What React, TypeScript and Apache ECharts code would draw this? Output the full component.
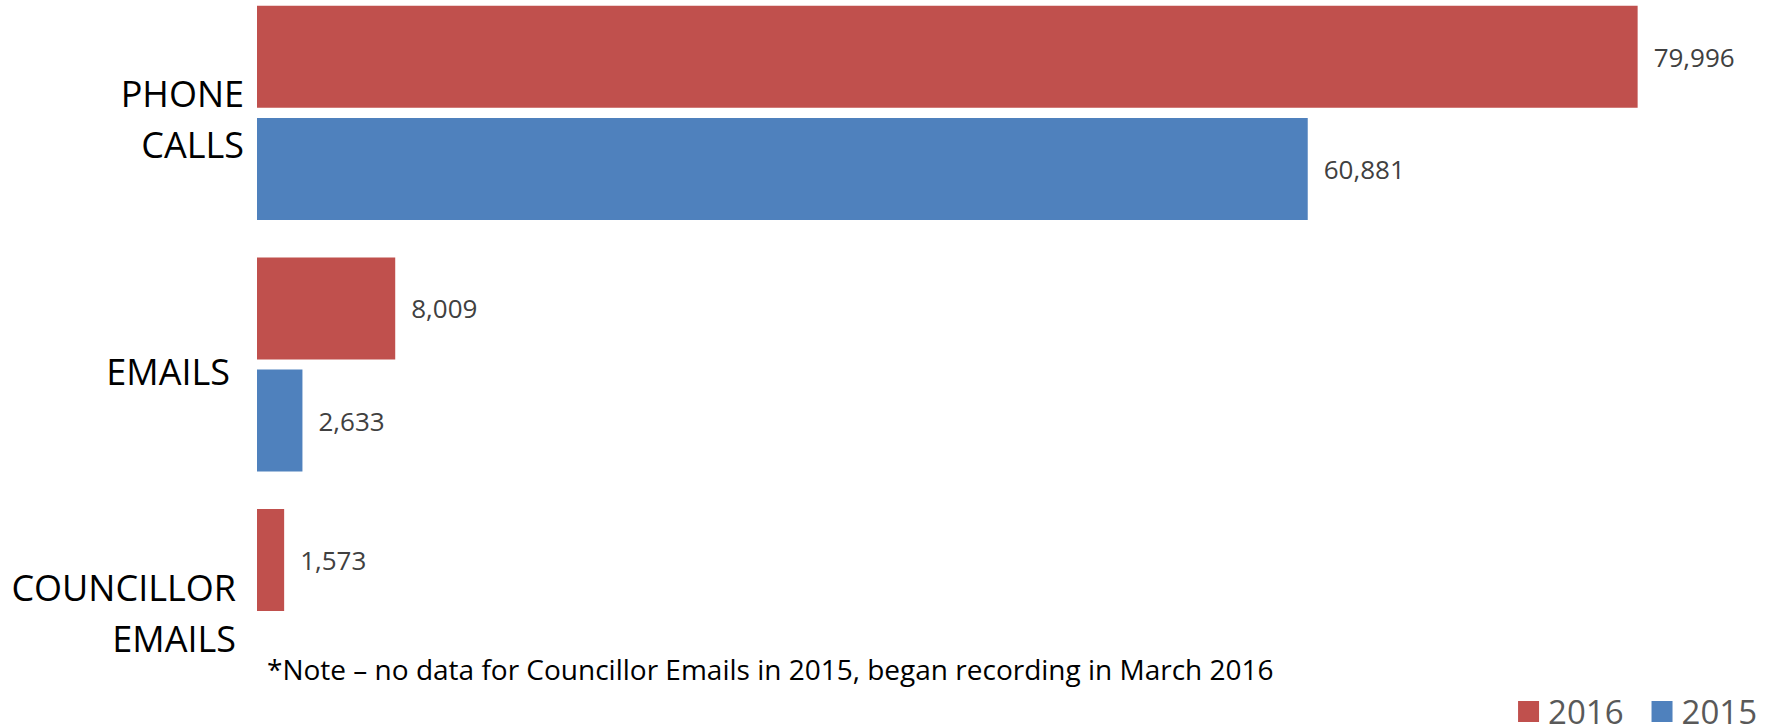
import React, { useEffect, useRef } from "react";
import * as echarts from "echarts";

const categories: string[] = ["PHONE\nCALLS", "EMAILS", "COUNCILLOR\nEMAILS"];
const values2016: (number | null)[] = [79996, 8009, 1573];
const values2015: (number | null)[] = [60881, 2633, null];
const seriesNames: string[] = ["2016", "2015"];
const noteText = "*Note \u2013 no data for Councillor Emails in 2015, began recording in March 2016";

const RED = "#C0504D";
const BLUE = "#4F81BD";
const FONT = "'Open Sans', sans-serif";
const OFFSET = 13; // chart canvas is shifted up by this many px so bands can overflow the window

export default function App() {
  const ref = useRef<HTMLDivElement>(null);
  useEffect(() => {
    if (!ref.current) return;
    const chart = echarts.init(ref.current, null, { renderer: "svg" });
    // per-category label token paddings [top, right, bottom, left]
    const labelPads = [
      [0, 0, 0, 0],
      [2, 14, 0, 0],
      [0, 8, 18, 0],
    ];
    const labelRich: any = {};
    categories.forEach((_, i) => {
      labelRich["c" + i] = {
        fontFamily: FONT,
        fontSize: 36,
        color: "#000000",
        lineHeight: 51,
        padding: labelPads[i],
      };
    });
    const dataLabel = {
      show: true,
      position: "right",
      distance: 16,
      fontFamily: FONT,
      fontSize: 26,
      color: "#404040",
      formatter: (p: any) => (p.value == null ? "" : Number(p.value).toLocaleString("en-US")),
    };
    chart.setOption({
      animation: false,
      backgroundColor: "#ffffff",
      grid: { left: 257, right: 45, top: 0, bottom: 0, containLabel: false },
      xAxis: {
        type: "value",
        min: 0,
        max: 85000,
        show: false,
        splitLine: { show: false },
      },
      yAxis: {
        type: "category",
        inverse: true,
        data: categories,
        axisLine: { show: false },
        axisTick: { show: false },
        axisLabel: {
          margin: 13,
          fontFamily: FONT,
          fontSize: 36,
          color: "#000000",
          lineHeight: 51,
          padding: [12, 0, 0, 0],
          formatter: (v: string, i: number) =>
            v
              .split("\n")
              .map((s) => `{c${i}|${s}}`)
              .join("\n"),
          rich: labelRich,
        },
      },
      legend: {
        data: seriesNames,
        right: 12,
        top: 695 + OFFSET,
        padding: 0,
        itemWidth: 21,
        itemHeight: 21,
        itemGap: 28,
        icon: "rect",
        textStyle: { fontFamily: FONT, fontSize: 33, color: "#595959", lineHeight: 30, padding: [0, 0, 0, 4] },
      },
      graphic: [
        {
          type: "text",
          left: 267,
          top: 655 + OFFSET,
          style: { text: noteText, fontFamily: FONT, fontSize: 28, fill: "#000000" },
        },
      ],
      series: [
        {
          name: seriesNames[0],
          type: "bar",
          data: values2016,
          barWidth: 102,
          barGap: "10%",
          itemStyle: { color: RED },
          label: dataLabel,
        },
        {
          name: seriesNames[1],
          type: "bar",
          data: values2015,
          barWidth: 102,
          barGap: "10%",
          itemStyle: { color: BLUE },
          label: dataLabel,
        },
      ],
    });
    return () => chart.dispose();
  }, []);
  return (
    <div style={{ position: "fixed", left: 0, top: 0, width: 1769, height: 728, overflow: "hidden", background: "#fff" }}>
      <div
        ref={ref}
        style={{ position: "absolute", left: 0, top: -OFFSET, width: 1769, height: 755 }}
      />
    </div>
  );
}
